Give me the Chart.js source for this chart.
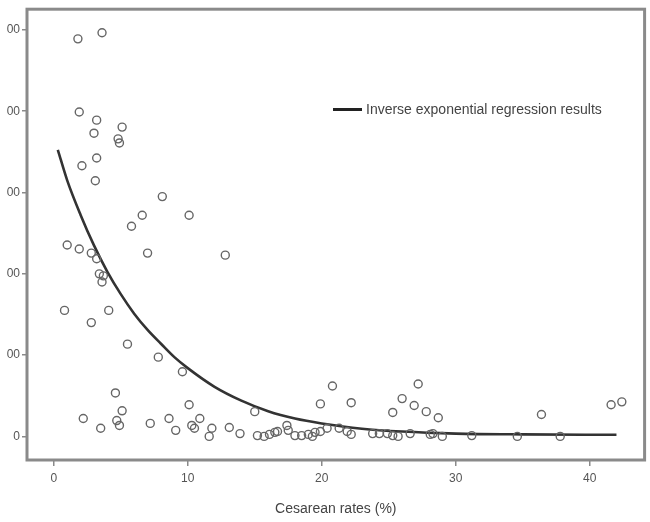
<!DOCTYPE html>
<html>
<head>
<meta charset="utf-8">
<script src="https://cdn.jsdelivr.net/npm/chart.js@4"></script>
<style>
  html, body { margin: 0; padding: 0; background: #fff; }
  body { width: 650px; height: 522px; position: relative; overflow: hidden; }
  #clip { position: absolute; left: 7px; top: 0; width: 643px; height: 522px; overflow: hidden; }
  #box { position: absolute; left: -37px; top: 0; width: 680px; height: 522px; }
  #legend { position: absolute; left: 333px; top: 101px; font: 14px 'Liberation Sans', Arial, sans-serif; color: #444; white-space: nowrap; }
  #legend .swatch { display: inline-block; width: 29px; height: 3px; background: #222; vertical-align: middle; margin-right: 4px; position: relative; top: -1px; }
</style>
</head>
<body>
<div id="clip"><div id="box"><canvas id="chart" width="680" height="522"></canvas></div></div>
<div id="legend"><span class="swatch"></span>Inverse exponential regression results</div>
<script>
// --- Data ---
const rateX = [1.8, 3.6, 1.9, 3.2, 3.0, 5.1, 4.8, 4.9, 3.2, 2.1, 3.1, 8.1, 6.6, 10.1, 5.8, 7.0, 12.8,
    1.0, 1.9, 2.8, 3.2, 3.4, 3.7, 3.6, 0.8, 4.1, 2.8, 5.5, 7.8, 9.6, 4.6, 10.1, 5.1, 2.2, 3.5, 4.7,
    4.9, 7.2, 8.6, 9.1, 10.9, 10.3, 10.5, 11.8, 11.6, 13.1, 13.9, 15.0, 15.2, 15.7, 16.1, 16.5, 16.7,
    17.4, 17.5, 18.0, 18.5, 19.0, 19.3, 19.5, 19.9, 20.4, 21.3, 21.9, 22.2, 19.9, 22.2, 20.8, 23.8,
    24.3, 24.9, 25.3, 25.7, 25.3, 26.0, 26.9, 27.2, 27.8, 28.7, 28.3, 29.0, 31.2, 34.6, 36.4, 37.8,
    41.6, 42.4, 26.6, 28.1];
const ratioY = [978, 993, 798, 778, 746, 761, 732, 722, 685, 666, 629, 590, 544, 544, 517, 451, 446,
    471, 461, 451, 437, 400, 395, 380, 310, 310, 280, 227, 195, 159, 107, 78, 63, 44, 20, 39,
    27, 32, 44, 15, 44, 27, 20, 20, 0, 22, 7, 61, 2, 0, 5, 10, 12,
    27, 15, 2, 2, 5, 0, 10, 12, 20, 20, 12, 5, 80, 83, 124, 7,
    7, 7, 2, 0, 59, 93, 76, 129, 61, 46, 7, 0, 2, 0, 54, 0,
    78, 85, 7, 5];

// regression curve
const fitX = [0.3, 1, 2, 3, 4, 5, 6, 7, 8, 9, 10, 12, 14, 16, 18, 20, 23, 26, 30, 35, 42];
const fitY = [705, 630, 545, 470, 405, 350, 302, 262, 228, 195, 168, 122, 88, 62, 44, 32, 19, 12, 7, 5, 4];

const xTicks = [0, 10, 20, 30, 40];
const yTicks = [0, 200, 400, 600, 800, 1000];

const font = "'Liberation Sans', Arial, sans-serif";
const axisGray = '#8a8a8a';

// --- Frame around plot area ---
const framePlugin = {
    id: 'frame',
    afterDatasetsDraw(chart) {
        const a = chart.chartArea;
        const ctx = chart.ctx;
        ctx.save();
        ctx.strokeStyle = axisGray;
        ctx.lineWidth = 3;
        ctx.strokeRect(a.left, a.top, a.right - a.left, a.bottom - a.top);
        ctx.restore();
    }
};

new Chart(document.getElementById('chart').getContext('2d'), {
    type: 'scatter',
    data: {
        datasets: [{
            label: 'Countries',
            data: rateX.map((x, i) => ({ x: x, y: ratioY[i] })),
            borderColor: '#666666',
            backgroundColor: 'rgba(0,0,0,0)',
            borderWidth: 1.4,
            pointRadius: 4
        }, {
            label: 'Inverse exponential regression results',
            data: fitX.map((x, i) => ({ x: x, y: fitY[i] })),
            showLine: true,
            borderColor: '#333333',
            borderWidth: 2.6,
            cubicInterpolationMode: 'monotone',
            pointRadius: 0
        }]
    },
    options: {
        responsive: false,
        animation: false,
        layout: { padding: { top: 5, right: 5, bottom: 0, left: 0 } },
        plugins: { legend: { display: false }, tooltip: { enabled: false } },
        scales: {
            x: {
                type: 'linear',
                min: -2.0,
                max: 44.1,
                afterBuildTicks: (s) => { s.ticks = xTicks.map(v => ({ value: v })); },
                afterFit: (s) => { s.height = 62; },
                border: { display: false },
                grid: { drawOnChartArea: false, drawTicks: true, tickLength: 6, color: axisGray, lineWidth: 1.5 },
                ticks: { color: '#555', font: { family: font, size: 12 }, padding: 5, maxRotation: 0 },
                title: { display: true, text: 'Cesarean rates (%)', color: '#444', font: { family: font, size: 14 }, padding: { top: 0, bottom: 4 } }
            },
            y: {
                type: 'linear',
                min: -58,
                max: 1051,
                afterBuildTicks: (s) => { s.ticks = yTicks.map(v => ({ value: v })); },
                afterFit: (s) => { s.width = 57; },
                border: { display: false },
                grid: { drawOnChartArea: false, drawTicks: true, tickLength: 5, color: axisGray, lineWidth: 1.5 },
                ticks: { color: '#555', font: { family: font, size: 12 }, padding: 2 }
            }
        }
    },
    plugins: [framePlugin]
});
</script>
</body>
</html>
